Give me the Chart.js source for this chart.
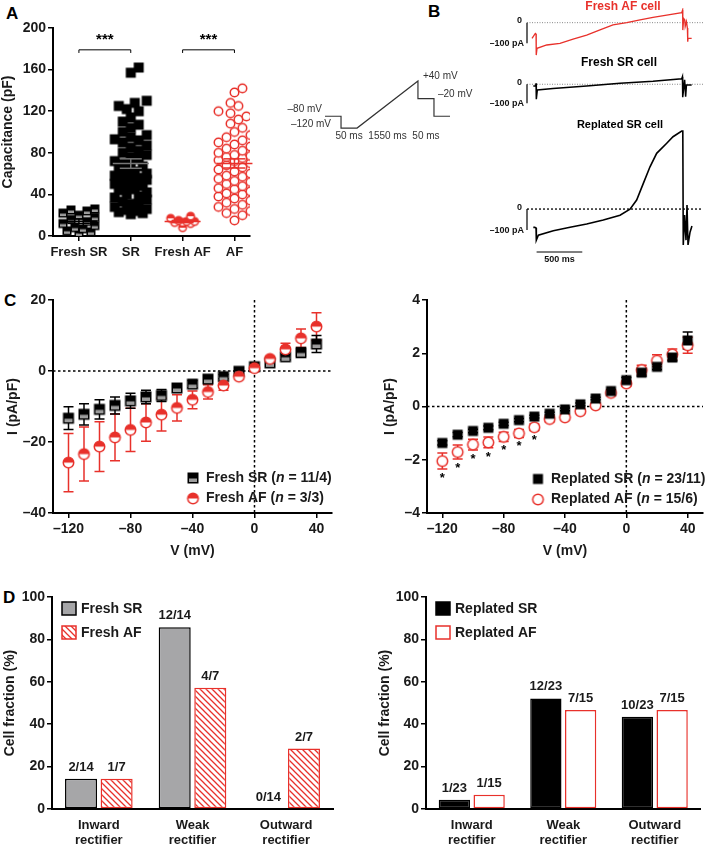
<!DOCTYPE html>
<html>
<head>
<meta charset="utf-8">
<title>Capacitance, ramp currents and rectification of SR and AF cells</title>
<script src="https://cdn.jsdelivr.net/npm/chart.js@4.4.1/dist/chart.umd.min.js"></script>
<style>
  body { margin: 0; background: #fff; }
  #fig { position: relative; width: 709px; height: 846px; overflow: hidden; font-family: "Liberation Sans", Arial, sans-serif; }
  #fig canvas { position: absolute; }
  .panel { position: absolute; font-weight: bold; font-size: 17px; color: #000; }
</style>
</head>
<body>
<div id="fig">
  <div class="panel" style="left:6px;top:4px">A</div>
  <div class="panel" style="left:428px;top:2px">B</div>
  <div class="panel" style="left:4px;top:291px">C</div>
  <div class="panel" style="left:3px;top:588px">D</div>

  <canvas id="capChart" width="262" height="270" style="left:0;top:0"></canvas>
  <canvas id="protoChart" width="220" height="80" style="left:270px;top:65px"></canvas>
  <canvas id="traceAF" width="219" height="62" style="left:490px;top:0"></canvas>
  <canvas id="traceSR" width="219" height="60" style="left:490px;top:52px"></canvas>
  <canvas id="traceRepl" width="219" height="160" style="left:490px;top:115px"></canvas>
  <canvas id="ivFresh" width="345" height="276" style="left:0;top:285px"></canvas>
  <canvas id="ivRepl" width="354" height="276" style="left:355px;top:285px"></canvas>
  <canvas id="fracFresh" width="345" height="261" style="left:0;top:585px"></canvas>
  <canvas id="fracRepl" width="354" height="261" style="left:355px;top:585px"></canvas>
</div>

<script>
// Data ----------------------------------------------------------------------->
// A: cell capacitance (pF)
const capCats = ['Fresh SR', 'SR', 'Fresh AF', 'AF'];
const capFreshSR = [26, 25, 24, 22, 20, 18, 16, 14, 12, 10, 8, 7, 5, 4, 3];
const capSR = [162, 157, 130, 128, 125, 122, 120, 114, 110, 107, 104, 100, 97, 95, 93, 92, 90, 87, 85, 82,
               80, 78, 76, 74, 72, 70, 68, 67, 65, 63, 62, 60, 59, 58, 56, 55, 54, 52, 51, 50,
               48, 47, 45, 44, 42, 40, 38, 37, 35, 33, 31, 30, 28, 26, 25, 24, 23, 22, 21];
const capFreshAF = [19, 17, 15, 14, 14, 13, 13, 12, 8];
const capAF = [142, 138, 128, 125, 120, 118, 115, 112, 108, 104, 100, 97, 95, 92, 90, 88, 86, 84, 82, 80,
               78, 77, 76, 75, 73, 72, 70, 68, 66, 64, 62, 60, 58, 57, 55, 53, 52, 50, 48, 46,
               45, 43, 41, 40, 38, 36, 34, 32, 30, 28, 26, 24, 22, 20, 15];
const capSig = [[0, 1], [2, 3]];
const capTicks = [0, 40, 80, 120, 160, 200];

// B: voltage protocol (schematic time units) and digitised ramp currents (ms, pA)
const protoX = [0, 1, 1, 2, 5.8, 5.8, 6.8, 6.8, 7.8];
const protoV = [-80, -80, -120, -120, 40, -20, -20, -80, -80];
const protoDur = ['50 ms', '1550 ms', '50 ms'];
const tFreshAF = [0, 36, 44, 46, 55, 161, 306, 449, 598, 744, 886, 1036, 1182, 1324, 1474, 1638, 1648, 1650, 1660, 1672, 1676, 1690, 1700, 1704, 1707, 1747];
const iFreshAF = [-76, -52, -55, -157, -124, -108, -100, -80, -60, -35, -11, 0, 13, 26, 37, 48, 61, -36, 20, 13, -19, 5, -26, -92, -76, -76];
const tFreshSR = [14, 40, 44, 47, 58, 230, 598, 963, 1324, 1638, 1646, 1649, 1670, 1681, 1690, 1747];
const iFreshSR = [-9, -9, 5, -79, -30, -23, -9, 5, 16, 29, 40, -68, 23, -65, -4, -4];
const tReplSR = [14, 30, 44, 47, 69, 233, 416, 598, 780, 963, 1072, 1145, 1218, 1291, 1364, 1474, 1543, 1638, 1650, 1655, 1669, 1685, 1696, 1707, 1729, 1750];
const iReplSR = [-87, -87, -90, -148, -124, -103, -87, -71, -52, -29, -1, 43, 122, 201, 265, 313, 344, 371, 371, -171, -29, -148, 19, -171, -110, -81];

// C: I-V relations (pA/pF, mean and SEM)
const ivV = [-120, -110, -100, -90, -80, -70, -60, -50, -40, -30, -20, -10, 0, 10, 20, 30, 40];
const ivTicks = [-120, -80, -40, 0, 40];
const ivFreshSR    = [-13.3, -12.2, -10.8, -9.7, -8.4, -7.3, -6.9, -4.8, -3.7, -2.3, -1.6, -0.1, 1.2, 2.3, 4.0, 5.2, 7.6];
const ivFreshSRErr = [3.2, 3.0, 2.7, 2.4, 2.1, 1.9, 1.7, 1.2, 1.0, 0.8, 0.6, 0.4, 0.3, 0.4, 0.8, 1.3, 2.4];
const ivFreshAF    = [-25.8, -23.4, -21.3, -18.7, -16.6, -14.5, -12.3, -10.4, -8.1, -5.9, -4.1, -1.6, 0.8, 3.4, 6.1, 9.2, 12.5];
const ivFreshAFErr = [8.2, 7.6, 7.0, 6.6, 6.1, 5.3, 4.6, 3.7, 2.5, 2.0, 1.3, 0.5, 0.5, 0.7, 1.7, 2.6, 3.9];
const ivReplSR     = [-1.37, -1.06, -0.92, -0.80, -0.65, -0.51, -0.38, -0.27, -0.11, 0.08, 0.30, 0.58, 0.99, 1.27, 1.49, 1.84, 2.48];
const ivReplSRErr  = [0.08, 0.08, 0.07, 0.07, 0.06, 0.06, 0.05, 0.05, 0.05, 0.05, 0.05, 0.06, 0.1, 0.12, 0.1, 0.12, 0.32];
const ivReplAF     = [-2.05, -1.71, -1.43, -1.35, -1.14, -1.01, -0.78, -0.47, -0.41, -0.18, 0.04, 0.51, 0.86, 1.37, 1.72, 1.96, 2.3];
const ivReplAFErr  = [0.3, 0.26, 0.2, 0.2, 0.17, 0.15, 0.12, 0.1, 0.08, 0.07, 0.06, 0.08, 0.1, 0.18, 0.22, 0.2, 0.3];
const ivReplSig    = [-120, -110, -100, -90, -80, -70, -60];

// D: rectification type (cell counts)
const fracCats = [['Inward', 'rectifier'], ['Weak', 'rectifier'], ['Outward', 'rectifier']];
const fracFreshSR = [2, 12, 0], fracFreshSRTotal = 14;
const fracFreshAF = [1, 4, 2], fracFreshAFTotal = 7;
const fracReplSR = [1, 12, 10], fracReplSRTotal = 23;
const fracReplAF = [1, 7, 7], fracReplAFTotal = 15;

// Style ---------------------------------------------------------------------->
const RED = '#e8312b';
const FONT = '"Liberation Sans", Arial, sans-serif';
Chart.defaults.font.family = FONT;
Chart.defaults.font.weight = 'bold';
Chart.defaults.font.size = 14;
Chart.defaults.color = '#1a1a1a';
Chart.defaults.animation = false;
Chart.defaults.plugins.legend.display = false;
Chart.defaults.plugins.tooltip.enabled = false;

const fmt = v => String(v).replace('-', '\u2013');
const axisGrid = { drawOnChartArea: false, color: '#000', lineWidth: 1.5, tickLength: 5 };
const axisBorder = { color: '#000', width: 2 };

function marker(kind, s) {
    const c = document.createElement('canvas');
    const d = Math.ceil(s + 3);
    c.width = c.height = d;
    const g = c.getContext('2d'), m = d / 2, r = s / 2;
    if (kind === 'sq' || kind === 'sqSplit') {
        g.fillStyle = '#000';
        g.fillRect(m - r, m - r, s, s);
        if (kind === 'sqSplit') {
            g.fillStyle = '#9d9d9d';
            g.fillRect(m - r + 1.5, m + 0.5, s - 3, r - 2);
        }
    } else {
        g.beginPath(); g.arc(m, m, r - 0.75, 0, 2 * Math.PI);
        g.fillStyle = '#fff'; g.fill();
        if (kind === 'circHalf') {
            g.beginPath(); g.arc(m, m, r - 0.75, Math.PI, 2 * Math.PI); g.closePath();
            g.fillStyle = RED; g.fill();
        }
        g.beginPath(); g.arc(m, m, r - 0.75, 0, 2 * Math.PI);
        g.strokeStyle = RED; g.lineWidth = 1.5; g.stroke();
    }
    return c;
}

// spread points sideways inside a narrow column (column scatter), overlap allowed when crowded
function swarm(values, col, dot, maxOff) {
    const pxY = 208 / 200, pxX = 52;
    const placed = [];
    const cands = [0];
    for (let o = 4; o <= maxOff; o += 4) cands.push(o, -o);
    return values.slice().sort((a, b) => a - b).map(v => {
        const py = v * pxY;
        let best = 0, bestD = -1;
        for (const off of cands) {
            const d = placed.reduce((mn, p) => Math.min(mn, Math.hypot(p.x - off, p.y - py)), Infinity);
            if (d >= dot * 0.9) { best = off; break; }
            if (d > bestD) { bestD = d; best = off; }
        }
        placed.push({ x: best, y: py });
        return { x: col + best / pxX, y: v };
    });
}

// A: capacitance ------------------------------------------------------------->
const capSets = [capFreshSR, capSR, capFreshAF, capAF];
const capMarks = [marker('sqSplit', 9), marker('sq', 10), marker('circHalf', 9), marker('circOpen', 10)];
const capSpread = [16, 17, 12, 16];
const capLineColors = ['#000', '#777', RED, RED];

const capStats = {
    id: 'capStats',
    afterDatasetsDraw(chart) {
        const { ctx, scales: { x, y } } = chart;
        ctx.save();
        capSets.forEach((vals, i) => {
            const n = vals.length;
            const m = vals.reduce((a, b) => a + b, 0) / n;
            const sem = Math.sqrt(vals.reduce((a, b) => a + (b - m) ** 2, 0) / (n - 1) / n);
            const cx = x.getPixelForValue(i);
            ctx.strokeStyle = capLineColors[i];
            ctx.lineWidth = 1.5;
            [[m, 18], [m + sem, 11], [m - sem, 11]].forEach(([v, w]) => {
                const py = y.getPixelForValue(v);
                ctx.beginPath(); ctx.moveTo(cx - w, py); ctx.lineTo(cx + w, py); ctx.stroke();
            });
            ctx.beginPath();
            ctx.moveTo(cx, y.getPixelForValue(m + sem)); ctx.lineTo(cx, y.getPixelForValue(m - sem));
            ctx.stroke();
        });
        // significance brackets
        ctx.strokeStyle = '#000'; ctx.lineWidth = 1; ctx.fillStyle = '#000';
        ctx.font = 'bold 15px ' + FONT; ctx.textAlign = 'center'; ctx.textBaseline = 'bottom';
        capSig.forEach(([a, b]) => {
            const x1 = x.getPixelForValue(a), x2 = x.getPixelForValue(b);
            const yb = y.getPixelForValue(179), yt = y.getPixelForValue(176);
            ctx.beginPath();
            ctx.moveTo(x1, yt); ctx.lineTo(x1, yb); ctx.lineTo(x2, yb); ctx.lineTo(x2, yt);
            ctx.stroke();
            ctx.fillText('***', (x1 + x2) / 2, yb - 2);
        });
        ctx.restore();
    }
};

new Chart(document.getElementById('capChart'), {
    type: 'scatter',
    data: {
        datasets: capSets.map((vals, i) => ({
            data: swarm(vals, i, 9.5, capSpread[i]), pointStyle: capMarks[i], pointRadius: 5
        }))
    },
    options: {
        responsive: false,
        layout: { padding: { top: 28, right: 12, left: 0, bottom: 0 } },
        scales: {
            x: {
                type: 'linear', min: -0.5, max: 3.3,
                afterBuildTicks: s => { s.ticks = capCats.map((c, i) => ({ value: i })); },
                afterFit: s => { s.height = 34; },
                ticks: { callback: v => capCats[v], font: { size: 13 }, padding: 4, maxRotation: 0, autoSkip: false },
                grid: axisGrid, border: axisBorder
            },
            y: {
                min: 0, max: 200,
                afterBuildTicks: s => { s.ticks = capTicks.map(v => ({ value: v })); },
                afterFit: s => { s.width = 53; },
                ticks: { padding: 2 },
                grid: axisGrid, border: axisBorder,
                title: { display: true, text: 'Capacitance (pF)', padding: 0 }
            }
        }
    },
    plugins: [capStats]
});

// B: protocol and traces ----------------------------------------------------->
const protoLabels = {
    id: 'protoLabels',
    afterDraw(chart) {
        const { ctx, chartArea: a, scales: { x, y } } = chart;
        ctx.save();
        ctx.fillStyle = '#333'; ctx.font = '10px ' + FONT; ctx.textBaseline = 'middle';
        ctx.textAlign = 'right';
        ctx.fillText(fmt(protoV[0]) + ' mV', x.getPixelForValue(protoX[0]) - 3, y.getPixelForValue(protoV[0]) - 7);
        ctx.fillText(fmt(protoV[2]) + ' mV', x.getPixelForValue(protoX[2]) - 10, y.getPixelForValue(protoV[2]) - 4);
        ctx.textAlign = 'left';
        ctx.fillText('+' + protoV[4] + ' mV', x.getPixelForValue(protoX[4]) + 5, y.getPixelForValue(protoV[4]) - 5);
        ctx.fillText(fmt(protoV[5]) + ' mV', x.getPixelForValue(protoX[6]) + 4, y.getPixelForValue(protoV[5]) - 4);
        ctx.textAlign = 'center';
        const segs = [[protoX[2], protoX[3]], [protoX[3], protoX[4]], [protoX[5], protoX[6]]];
        segs.forEach(([s, e], k) => {
            ctx.fillText(protoDur[k], x.getPixelForValue((s + e) / 2), a.bottom + 7);
        });
        ctx.restore();
    }
};

new Chart(document.getElementById('protoChart'), {
    type: 'scatter',
    data: { datasets: [{ data: protoX.map((t, i) => ({ x: t, y: protoV[i] })), showLine: true,
        borderColor: '#333', borderWidth: 1.2, pointRadius: 0 }] },
    options: {
        responsive: false,
        layout: { padding: { left: 55, right: 40, top: 14.5, bottom: 15.5 } },
        scales: { x: { display: false, min: 0, max: 7.8 }, y: { display: false, min: -125, max: 45 } }
    },
    plugins: [protoLabels]
});

function traceChart(id, t, I, cfg) {
    const decor = {
        id: 'traceDecor',
        beforeDatasetsDraw(chart) {
            const { ctx, chartArea: a, scales: { x, y } } = chart;
            const y0 = y.getPixelForValue(0), y100 = y.getPixelForValue(-100);
            ctx.save();
            ctx.strokeStyle = cfg.zeroColor; ctx.lineWidth = cfg.zeroWidth; ctx.setLineDash(cfg.zeroDash);
            ctx.beginPath(); ctx.moveTo(a.left, y0); ctx.lineTo(a.right, y0); ctx.stroke();
            ctx.setLineDash([]);
            ctx.strokeStyle = '#000'; ctx.lineWidth = 1.2;
            ctx.beginPath(); ctx.moveTo(a.left, y0); ctx.lineTo(a.left, y100); ctx.stroke();
            ctx.fillStyle = '#111'; ctx.font = 'bold 9px ' + FONT; ctx.textAlign = 'right'; ctx.textBaseline = 'middle';
            ctx.fillText('0', a.left - 5, y0 - 2);
            ctx.fillText('\u2013100 pA', a.left - 3, y100);
            ctx.fillStyle = cfg.titleColor; ctx.font = 'bold ' + cfg.titleSize + 'px ' + FONT; ctx.textAlign = 'center';
            ctx.fillText(cfg.title, cfg.titleX, cfg.titleY);
            if (cfg.timeBar) {
                const x1 = x.getPixelForValue(50), x2 = x.getPixelForValue(550);
                ctx.strokeStyle = '#000'; ctx.lineWidth = 1;
                ctx.beginPath(); ctx.moveTo(x1, a.bottom + 7); ctx.lineTo(x2, a.bottom + 7); ctx.stroke();
                ctx.fillStyle = '#111'; ctx.font = 'bold 9px ' + FONT;
                ctx.fillText('500 ms', (x1 + x2) / 2, a.bottom + 15);
            }
            ctx.restore();
        }
    };
    new Chart(document.getElementById(id), {
        type: 'scatter',
        data: { datasets: [{ data: t.map((v, i) => ({ x: v, y: I[i] })), showLine: true,
            borderColor: cfg.color, borderWidth: cfg.width, pointRadius: 0 }] },
        options: {
            responsive: false,
            layout: { padding: cfg.pad },
            scales: { x: { display: false, min: -55, max: 1871 }, y: { display: false, min: cfg.yMin, max: cfg.yMax } }
        },
        plugins: [decor]
    });
}

traceChart('traceAF', tFreshAF, iFreshAF, {
    color: RED, width: 1.3, yMin: -171, yMax: 71, pad: { left: 37, right: 6, top: 8, bottom: 4 },
    zeroColor: '#888', zeroWidth: 1, zeroDash: [1, 1.5],
    title: 'Fresh AF cell', titleColor: RED, titleSize: 12, titleX: 133, titleY: 7
});
traceChart('traceSR', tFreshSR, iFreshSR, {
    color: '#000', width: 1.5, yMin: -125, yMax: 75, pad: { left: 37, right: 6, top: 18, bottom: 4 },
    zeroColor: '#888', zeroWidth: 1, zeroDash: [1, 1.5],
    title: 'Fresh SR cell', titleColor: '#000', titleSize: 12, titleX: 129, titleY: 11
});
traceChart('traceRepl', tReplSR, iReplSR, {
    color: '#000', width: 1.6, yMin: -171, yMax: 376, pad: { left: 37, right: 6, top: 15, bottom: 30 },
    zeroColor: '#000', zeroWidth: 1.3, zeroDash: [2, 2],
    title: 'Replated SR cell', titleColor: '#000', titleSize: 11, titleX: 130, titleY: 10, timeBar: true
});

// C: I-V curves -------------------------------------------------------------->
const zeroLines = {
    id: 'zeroLines',
    beforeDatasetsDraw(chart) {
        const { ctx, chartArea: a, scales: { x, y } } = chart;
        const x0 = x.getPixelForValue(0), y0 = y.getPixelForValue(0);
        ctx.save();
        ctx.strokeStyle = '#000'; ctx.lineWidth = 1.5; ctx.setLineDash([2.5, 2.5]);
        ctx.beginPath();
        ctx.moveTo(a.left, y0); ctx.lineTo(a.right, y0);
        ctx.moveTo(x0, a.top); ctx.lineTo(x0, a.bottom);
        ctx.stroke();
        ctx.restore();
    }
};

const errorBars = {
    id: 'errorBars',
    beforeDatasetsDraw(chart) {
        const { ctx, scales: { x, y } } = chart;
        ctx.save();
        chart.data.datasets.forEach(ds => {
            ctx.strokeStyle = ds.errColor; ctx.lineWidth = 1.5;
            ds.data.forEach((p, i) => {
                const e = ds.errors[i], px = x.getPixelForValue(p.x);
                const y1 = y.getPixelForValue(p.y + e), y2 = y.getPixelForValue(p.y - e);
                ctx.beginPath();
                ctx.moveTo(px, y1); ctx.lineTo(px, y2);
                ctx.moveTo(px - 5, y1); ctx.lineTo(px + 5, y1);
                ctx.moveTo(px - 5, y2); ctx.lineTo(px + 5, y2);
                ctx.stroke();
            });
        });
        ctx.restore();
    }
};

function ivLegend(items, lx, ly) {
    return {
        id: 'ivLegend',
        afterDraw(chart) {
            const { ctx } = chart;
            ctx.save();
            ctx.fillStyle = '#1a1a1a'; ctx.textBaseline = 'middle'; ctx.textAlign = 'left';
            items.forEach((it, k) => {
                const yy = ly + k * 20.5;
                ctx.drawImage(it.mark, lx - it.mark.width / 2, yy - it.mark.height / 2);
                let xx = lx + 13;
                [[it.name + ' (', 'bold'], ['n', 'italic bold'], [' = ' + it.n + ')', 'bold']].forEach(([txt, st]) => {
                    ctx.font = st + ' 14px ' + FONT;
                    ctx.fillText(txt, xx, yy);
                    xx += ctx.measureText(txt).width;
                });
            });
            ctx.restore();
        }
    };
}

const sigStars = {
    id: 'sigStars',
    afterDatasetsDraw(chart) {
        const { ctx, scales: { x, y } } = chart;
        ctx.save();
        ctx.fillStyle = '#000'; ctx.font = 'bold 13px ' + FONT; ctx.textAlign = 'center'; ctx.textBaseline = 'top';
        ivReplSig.forEach(v => {
            const i = ivV.indexOf(v);
            ctx.fillText('*', x.getPixelForValue(v), y.getPixelForValue(ivReplAF[i] - ivReplAFErr[i]) + 3);
        });
        ctx.restore();
    }
};

function ivOptions(yMin, yMax, step, yWidth, titlePad, rightPad) {
    return {
        responsive: false,
        layout: { padding: { top: 15, right: rightPad, left: 0, bottom: 0 } },
        scales: {
            x: {
                type: 'linear', min: -130, max: 50,
                afterBuildTicks: s => { s.ticks = ivTicks.map(v => ({ value: v })); },
                afterFit: s => { s.height = 48; },
                ticks: { callback: fmt, padding: 3, maxRotation: 0 },
                grid: axisGrid, border: axisBorder,
                title: { display: true, text: 'V (mV)', padding: { top: 0, bottom: 1 } }
            },
            y: {
                min: yMin, max: yMax,
                afterBuildTicks: s => {
                    const t = [];
                    for (let v = yMin; v <= yMax; v += step) t.push({ value: v });
                    s.ticks = t;
                },
                afterFit: s => { s.width = yWidth; },
                ticks: { callback: fmt, padding: 2 },
                grid: axisGrid, border: axisBorder,
                title: { display: true, text: 'I (pA/pF)', padding: { top: titlePad, bottom: 0 } }
            }
        }
    };
}

const mkFreshSR = marker('sqSplit', 11), mkFreshAF = marker('circHalf', 12);
const mkReplSR = marker('sq', 10), mkReplAF = marker('circOpen', 12);
const pts = arr => ivV.map((v, i) => ({ x: v, y: arr[i] }));

new Chart(document.getElementById('ivFresh'), {
    type: 'scatter',
    data: {
        datasets: [
            { label: 'Fresh AF', data: pts(ivFreshAF), errors: ivFreshAFErr, errColor: RED, pointStyle: mkFreshAF, pointRadius: 5 },
            { label: 'Fresh SR', data: pts(ivFreshSR), errors: ivFreshSRErr, errColor: '#000', pointStyle: mkFreshSR, pointRadius: 5 }
        ]
    },
    options: ivOptions(-40, 20, 20, 53, 5, 13),
    plugins: [zeroLines, errorBars, ivLegend([
        { mark: mkFreshSR, name: 'Fresh SR', n: '11/4' },
        { mark: mkFreshAF, name: 'Fresh AF', n: '3/3' }
    ], 193, 193)]
});

new Chart(document.getElementById('ivRepl'), {
    type: 'scatter',
    data: {
        datasets: [
            { label: 'Replated SR', data: pts(ivReplSR), errors: ivReplSRErr, errColor: '#000', pointStyle: mkReplSR, pointRadius: 5 },
            { label: 'Replated AF', data: pts(ivReplAF), errors: ivReplAFErr, errColor: RED, pointStyle: mkReplAF, pointRadius: 5 }
        ]
    },
    options: ivOptions(-4, 4, 2, 72, 27, 4),
    plugins: [zeroLines, errorBars, sigStars, ivLegend([
        { mark: mkReplSR, name: 'Replated SR', n: '23/11' },
        { mark: mkReplAF, name: 'Replated AF', n: '15/6' }
    ], 183, 194)]
});

// D: cell fractions ---------------------------------------------------------->
function hatch(canvasId) {
    const p = document.createElement('canvas');
    p.width = p.height = 6;
    const g = p.getContext('2d');
    g.fillStyle = '#fff'; g.fillRect(0, 0, 6, 6);
    g.strokeStyle = RED; g.lineWidth = 1.3;
    g.beginPath();
    g.moveTo(0, 0); g.lineTo(6, 6);
    g.moveTo(-1, 5); g.lineTo(1, 7);
    g.moveTo(5, -1); g.lineTo(7, 1);
    g.stroke();
    return document.getElementById(canvasId).getContext('2d').createPattern(p, 'repeat');
}

const barLabels = {
    id: 'barLabels',
    afterDatasetsDraw(chart) {
        const { ctx } = chart;
        ctx.save();
        ctx.fillStyle = '#1a1a1a'; ctx.font = 'bold 13px ' + FONT; ctx.textAlign = 'center'; ctx.textBaseline = 'bottom';
        chart.data.datasets.forEach((ds, k) => {
            chart.getDatasetMeta(k).data.forEach((bar, i) => {
                ctx.fillText(ds.counts[i] + '/' + ds.total, bar.x, bar.y - 5);
            });
        });
        ctx.restore();
    }
};

const fracLegend = {
    id: 'fracLegend',
    afterDraw(chart) {
        const { ctx, chartArea: a } = chart;
        ctx.save();
        chart.data.datasets.forEach((ds, k) => {
            const bx = a.left + 10, by = a.top + 5 + k * 24;
            ctx.fillStyle = ds.backgroundColor; ctx.fillRect(bx, by, 14, 13);
            ctx.strokeStyle = ds.borderColor; ctx.lineWidth = 1.5; ctx.strokeRect(bx, by, 14, 13);
            ctx.fillStyle = '#1a1a1a'; ctx.font = 'bold 14px ' + FONT;
            ctx.textBaseline = 'middle'; ctx.textAlign = 'left';
            ctx.fillText(ds.label, bx + 19, by + 7);
        });
        ctx.restore();
    }
};

function fracDataset(label, counts, total, fill, border) {
    return {
        label, counts, total,
        data: counts.map(c => c / total * 100),
        backgroundColor: fill, borderColor: border, borderWidth: 1.5, borderSkipped: false,
        categoryPercentage: 0.76, barPercentage: 0.9
    };
}

function fracOptions(yWidth, titlePad, rightPad) {
    return {
        responsive: false,
        layout: { padding: { top: 12, right: rightPad, left: 0, bottom: 0 } },
        scales: {
            x: {
                afterFit: s => { s.height = 37; },
                ticks: { font: { size: 13, lineHeight: 1.15 }, padding: 9, maxRotation: 0 },
                grid: { display: false, drawTicks: false }, border: axisBorder
            },
            y: {
                min: 0, max: 100,
                ticks: { stepSize: 20, padding: 2 },
                afterFit: s => { s.width = yWidth; },
                grid: axisGrid, border: axisBorder,
                title: { display: true, text: 'Cell fraction (%)', padding: { top: titlePad, bottom: 0 } }
            }
        }
    };
}

new Chart(document.getElementById('fracFresh'), {
    type: 'bar',
    data: {
        labels: fracCats,
        datasets: [
            fracDataset('Fresh SR', fracFreshSR, fracFreshSRTotal, '#a6a6a8', '#000'),
            fracDataset('Fresh AF', fracFreshAF, fracFreshAFTotal, hatch('fracFresh'), RED)
        ]
    },
    options: fracOptions(52, 2, 12),
    plugins: [barLabels, fracLegend]
});

new Chart(document.getElementById('fracRepl'), {
    type: 'bar',
    data: {
        labels: fracCats,
        datasets: [
            fracDataset('Replated SR', fracReplSR, fracReplSRTotal, '#000', '#000'),
            fracDataset('Replated AF', fracReplAF, fracReplAFTotal, '#fff', RED)
        ]
    },
    options: fracOptions(71, 22, 8.5),
    plugins: [barLabels, fracLegend]
});
</script>
</body>
</html>
